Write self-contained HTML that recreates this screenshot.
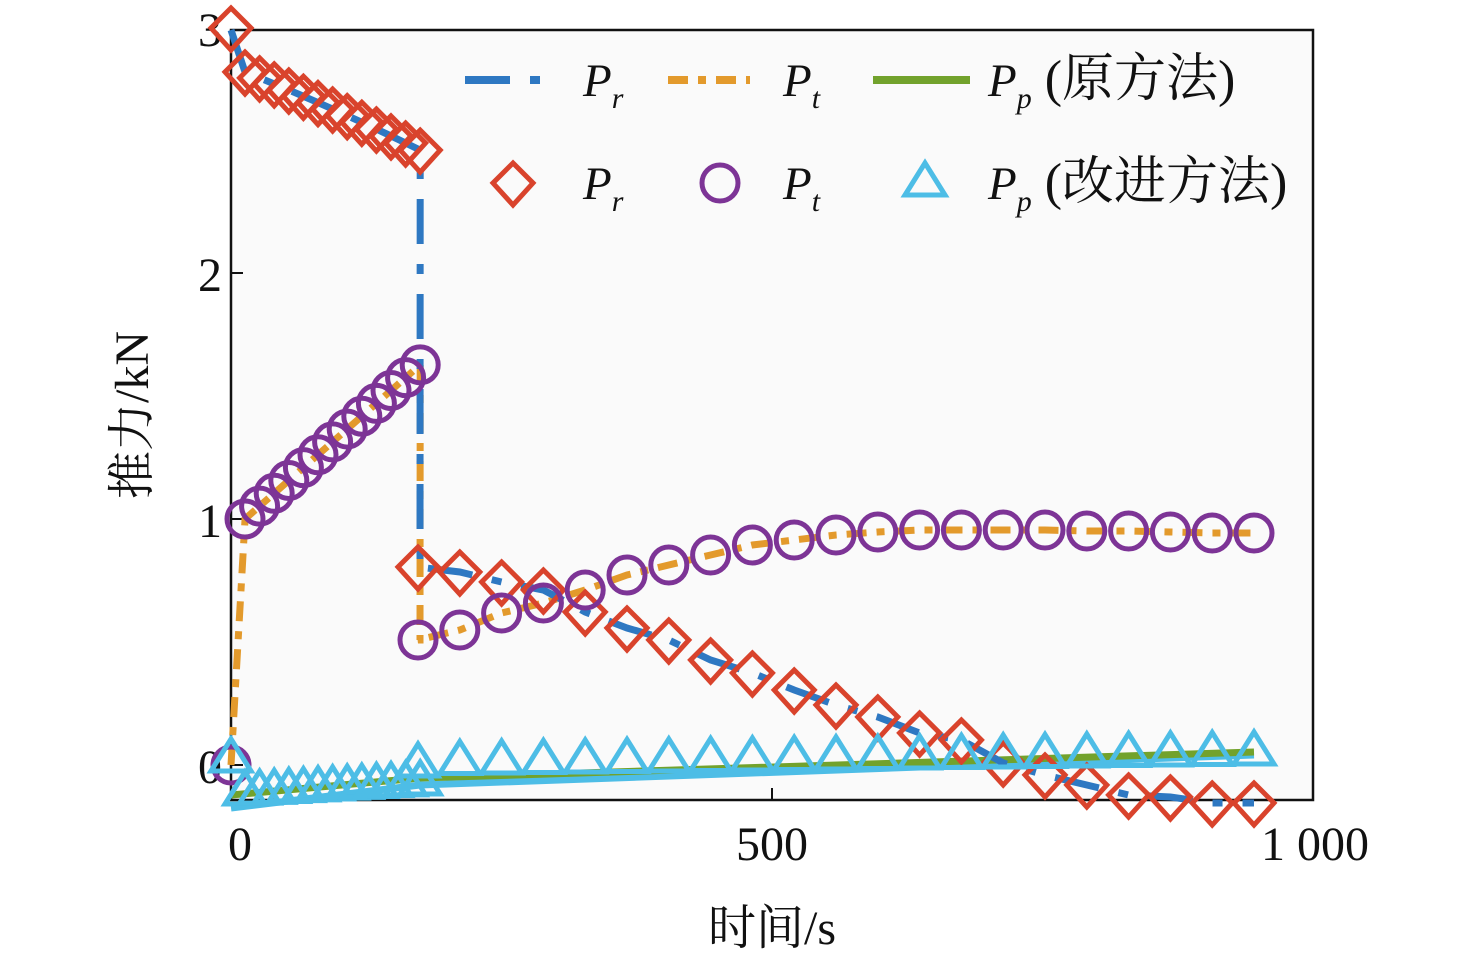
<!DOCTYPE html>
<html><head><meta charset="utf-8"><style>
html,body{margin:0;padding:0;background:#fff}
svg text{font-family:"Liberation Serif","Noto Serif CJK SC",serif;fill:#111}
</style></head><body>
<svg id="s" width="1476" height="960" viewBox="0 0 1476 960" xmlns="http://www.w3.org/2000/svg">
<rect width="1476" height="960" fill="#fff"/>
<rect x="231" y="30" width="1082" height="770" fill="#fafafa" stroke="#111" stroke-width="2.5"/>
<g stroke="#111" stroke-width="2">
<line x1="231" y1="273" x2="243" y2="273"/><line x1="231" y1="519" x2="243" y2="519"/><line x1="231" y1="765" x2="243" y2="765"/>
<line x1="772" y1="800" x2="772" y2="788"/>
</g>
<g font-size="48">
<text x="222" y="46" text-anchor="end">3</text>
<text x="222" y="291" text-anchor="end">2</text>
<text x="222" y="537" text-anchor="end">1</text>
<text x="222" y="783" text-anchor="end">0</text>
<text x="240" y="860" text-anchor="middle">0</text>
<text x="772" y="860" text-anchor="middle">500</text>
<text x="1315" y="860" text-anchor="middle">1 000</text>
<text x="772" y="944" text-anchor="middle">时间/s</text>
<text transform="translate(148,415) rotate(-90)" text-anchor="middle">推力/kN</text>
</g>
<g id="lines" fill="none" stroke-width="7"></g>
<g id="marks" fill="none" stroke-width="5"></g>
<g fill="none">
<line x1="465" y1="80" x2="550" y2="80" stroke="#2e78c2" stroke-width="8" stroke-dasharray="45,20,10,20"/>
<line x1="668" y1="80" x2="750" y2="80" stroke="#e39a2c" stroke-width="8" stroke-dasharray="20,10,8,10"/>
<line x1="873" y1="80" x2="970" y2="80" stroke="#72a22c" stroke-width="8"/>
<polygon points="513,163 533,183 513,205 493,183" stroke="#d9432c" stroke-width="5"/>
<circle cx="720" cy="183" r="18" stroke="#7d3496" stroke-width="5"/>
<polygon points="925,163 945,195 905,195" stroke="#4dbde6" stroke-width="5"/>
</g>
<g font-size="47">
<text x="583" y="96" font-style="italic">P<tspan font-size="30" dy="12">r</tspan></text>
<text x="783" y="96" font-style="italic">P<tspan font-size="30" dy="12">t</tspan></text>
<text x="988" y="96"><tspan font-style="italic">P</tspan><tspan font-size="30" dy="12" font-style="italic">p</tspan><tspan dy="-12" font-size="52"> (原方法)</tspan></text>
<text x="583" y="199" font-style="italic">P<tspan font-size="30" dy="12">r</tspan></text>
<text x="783" y="199" font-style="italic">P<tspan font-size="30" dy="12">t</tspan></text>
<text x="988" y="199"><tspan font-style="italic">P</tspan><tspan font-size="30" dy="12" font-style="italic">p</tspan><tspan dy="-12" font-size="52"> (改进方法)</tspan></text>
</g>
</svg>
<script>
var NS="http://www.w3.org/2000/svg";
function el(p,t,a){var e=document.createElementNS(NS,t);for(var k in a)e.setAttribute(k,a[k]);document.getElementById(p).appendChild(e);return e;}
function pl(pts){return pts.map(function(p){return p[0]+","+p[1]}).join(" ");}
var seg1=[];for(var i=0;i<13;i++)seg1.push(245+i*14.6);
var seg2=[];for(var i=0;i<21;i++)seg2.push(418+i*41.8);
function prA(x){var f=(x-245)/175;return 72+70*f+8*f*f;}
var pr2=[567,572,582,590,612,628,640,660,673,690,705,717,733,740,763,775,785,795,797,803,803];
function ptA(x){var f=(x-245)/175;return 519-154*f;}
var pt2=[640,630,613,603,590,575,565,555,545,540,535,532,530,530,530,530,531,531,532,533,533];
el("lines","polyline",{points:pl([[231,808],[420,785],[1254,755]]),stroke:"#4dbde6"});
el("lines","polyline",{points:pl([[231,795],[420,778],[1254,752]]),stroke:"#72a22c"});
var ptl=[[231,765],[245,520]];seg1.forEach(function(x){ptl.push([x,ptA(x)])});ptl.push([420,640]);
seg2.forEach(function(x,i){ptl.push([x,pt2[i]])});
el("lines","polyline",{points:pl(ptl),stroke:"#e39a2c","stroke-dasharray":"20,10,8,10"});
var prl=[[231,30]];seg1.forEach(function(x){prl.push([x,prA(x)])});prl.push([420,567]);
seg2.forEach(function(x,i){prl.push([x,pr2[i]])});
el("lines","polyline",{points:pl(prl),stroke:"#2e78c2","stroke-dasharray":"45,20,10,20"});
function dia(x,y){el("marks","polygon",{points:pl([[x,y-20],[x+20,y],[x,y+22],[x-20,y]]),stroke:"#d9432c"});}
function cir(x,y){el("marks","circle",{cx:x,cy:y,r:18,stroke:"#7d3496"});}
function tri(x,y){el("marks","polygon",{points:pl([[x,y-18],[x+20,y+14],[x-20,y+14]]),stroke:"#4dbde6"});}
dia(231,28);seg1.forEach(function(x){dia(x,prA(x))});seg2.forEach(function(x,i){dia(x,pr2[i])});
cir(231,765);seg1.forEach(function(x){cir(x,ptA(x))});seg2.forEach(function(x,i){cir(x,pt2[i])});
tri(231,757);seg1.forEach(function(x){var f=(x-245)/175;tri(x,790-10*f)});
seg2.forEach(function(x,i){tri(x,i==0?762:760-i*0.5)});
</script>
</body></html>
